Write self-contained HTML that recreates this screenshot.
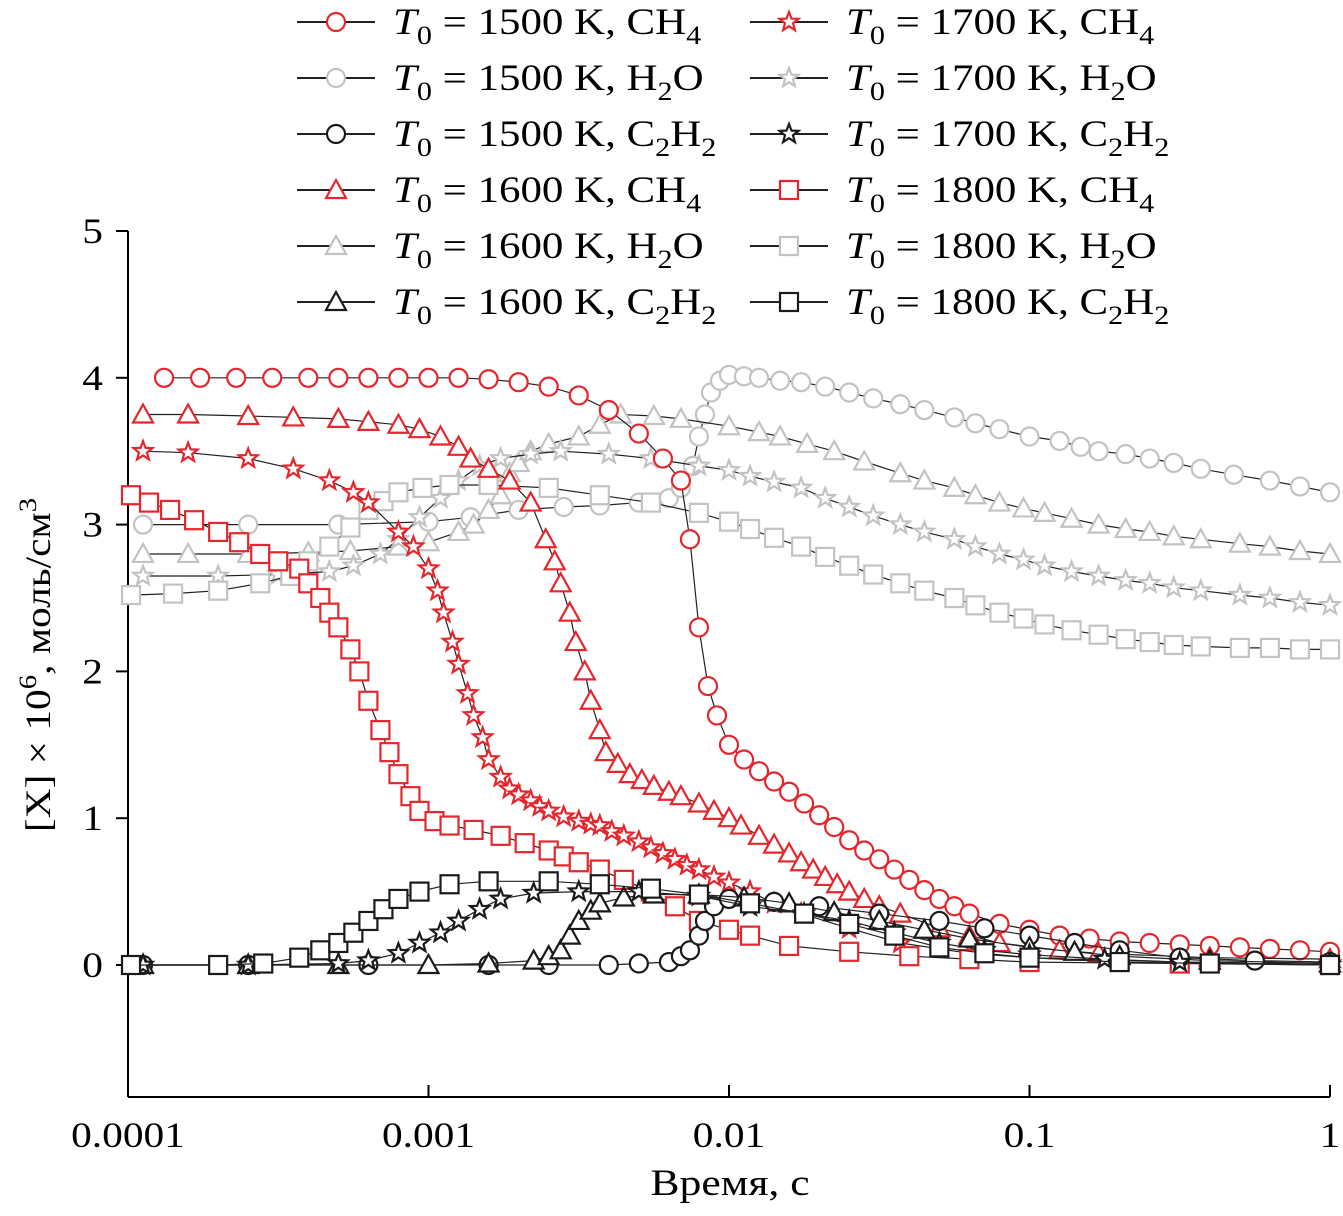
<!DOCTYPE html>
<html><head><meta charset="utf-8"><style>
html,body{margin:0;padding:0;background:#fff;}
svg text{font-family:"Liberation Serif",serif;}
</style></head><body>
<svg id="chart" width="1343" height="1211" viewBox="0 0 1343 1211" xmlns="http://www.w3.org/2000/svg">
<g id="axes"></g>
<g id="series"></g>
<g id="legend"></g>
</svg>
<script>
// x values are log10(time, s)
const xTicks = [-4,-3,-2,-1,0];
const xTickLabels = ["0.0001","0.001","0.01","0.1","1"];
const yTicks = [0,1,2,3,4,5];
const yTickLabels = ["0","1","2","3","4","5"];

const t1500ch4 = [-3.88,-3.76,-3.64,-3.52,-3.4,-3.3,-3.2,-3.1,-3.0,-2.9,-2.8,-2.7,-2.6,-2.5,-2.4,-2.3,-2.22,-2.16,-2.13,-2.1,-2.07,-2.04,-2.0,-1.95,-1.9,-1.85,-1.8,-1.75,-1.7,-1.65,-1.6,-1.55,-1.5,-1.45,-1.4,-1.35,-1.3,-1.25,-1.2,-1.1,-1.0,-0.9,-0.8,-0.7,-0.6,-0.5,-0.4,-0.3,-0.2,-0.1,0];
const v1500ch4 = [4.0,4.0,4.0,4.0,4.0,4.0,4.0,4.0,4.0,4.0,3.99,3.97,3.94,3.88,3.78,3.62,3.45,3.3,2.9,2.3,1.9,1.7,1.5,1.4,1.32,1.25,1.18,1.1,1.02,0.94,0.85,0.78,0.72,0.65,0.58,0.51,0.45,0.4,0.35,0.28,0.24,0.2,0.18,0.16,0.15,0.14,0.13,0.12,0.11,0.1,0.09];
const t1500h2o = [-3.95,-3.6,-3.3,-3.0,-2.86,-2.7,-2.55,-2.43,-2.3,-2.2,-2.16,-2.12,-2.1,-2.08,-2.06,-2.03,-2.0,-1.95,-1.9,-1.83,-1.76,-1.68,-1.6,-1.52,-1.43,-1.35,-1.25,-1.18,-1.1,-1.0,-0.9,-0.83,-0.77,-0.68,-0.6,-0.52,-0.43,-0.32,-0.2,-0.1,0];
const v1500h2o = [3.0,3.0,3.0,3.02,3.05,3.1,3.12,3.13,3.15,3.18,3.25,3.4,3.6,3.75,3.9,3.98,4.02,4.01,4.0,3.98,3.97,3.94,3.9,3.86,3.82,3.78,3.73,3.69,3.65,3.6,3.57,3.53,3.5,3.48,3.45,3.42,3.38,3.34,3.3,3.26,3.22];
const t1500c2h2 = [-3.95,-3.6,-3.2,-2.8,-2.6,-2.4,-2.3,-2.2,-2.16,-2.13,-2.1,-2.08,-2.05,-2.0,-1.85,-1.7,-1.5,-1.3,-1.15,-1.0,-0.85,-0.7,-0.5,-0.25,0];
const v1500c2h2 = [0,0,0,0,0,0,0.01,0.02,0.06,0.1,0.2,0.3,0.4,0.45,0.43,0.4,0.35,0.3,0.25,0.2,0.15,0.1,0.05,0.03,0.02];
const t1600ch4 = [-3.95,-3.8,-3.6,-3.45,-3.3,-3.2,-3.1,-3.03,-2.96,-2.9,-2.86,-2.8,-2.73,-2.66,-2.61,-2.58,-2.56,-2.53,-2.51,-2.48,-2.46,-2.43,-2.41,-2.37,-2.33,-2.29,-2.25,-2.2,-2.16,-2.1,-2.05,-2.0,-1.96,-1.9,-1.85,-1.8,-1.76,-1.72,-1.68,-1.64,-1.6,-1.55,-1.5,-1.43,-1.3,-1.2,-1.1,-0.9,-0.77,-0.4,0];
const v1600ch4 = [3.75,3.75,3.74,3.73,3.72,3.7,3.68,3.65,3.6,3.53,3.45,3.38,3.3,3.15,2.9,2.75,2.6,2.4,2.2,2.0,1.8,1.6,1.45,1.37,1.3,1.26,1.22,1.18,1.15,1.1,1.05,1.0,0.95,0.88,0.82,0.76,0.7,0.65,0.6,0.55,0.5,0.45,0.4,0.35,0.25,0.2,0.15,0.1,0.08,0.05,0.04];
const t1600h2o = [-3.95,-3.8,-3.6,-3.4,-3.26,-3.1,-3.0,-2.9,-2.85,-2.8,-2.76,-2.73,-2.7,-2.66,-2.6,-2.5,-2.43,-2.36,-2.25,-2.16,-2.0,-1.9,-1.83,-1.74,-1.65,-1.55,-1.43,-1.35,-1.25,-1.18,-1.1,-1.02,-0.95,-0.86,-0.77,-0.68,-0.6,-0.52,-0.43,-0.3,-0.2,-0.1,0];
const v1600h2o = [2.8,2.8,2.8,2.81,2.82,2.85,2.88,2.95,3.0,3.1,3.2,3.35,3.42,3.5,3.55,3.6,3.68,3.75,3.74,3.72,3.67,3.63,3.6,3.55,3.5,3.43,3.35,3.3,3.25,3.2,3.15,3.11,3.08,3.04,3.0,2.97,2.95,2.92,2.9,2.87,2.85,2.82,2.8];
const t1600c2h2 = [-3.95,-3.6,-3.3,-3.0,-2.8,-2.65,-2.6,-2.56,-2.53,-2.5,-2.46,-2.43,-2.35,-2.25,-2.1,-1.95,-1.8,-1.65,-1.5,-1.35,-1.2,-1.0,-0.85,-0.7,-0.4,0];
const v1600c2h2 = [0,0,0,0,0.01,0.03,0.06,0.1,0.2,0.3,0.37,0.42,0.46,0.48,0.48,0.46,0.42,0.36,0.3,0.24,0.18,0.12,0.09,0.06,0.03,0.01];
const t1700ch4 = [-3.95,-3.8,-3.6,-3.45,-3.33,-3.25,-3.2,-3.1,-3.05,-3.0,-2.97,-2.95,-2.92,-2.9,-2.87,-2.85,-2.82,-2.8,-2.76,-2.73,-2.7,-2.66,-2.63,-2.6,-2.55,-2.5,-2.46,-2.43,-2.39,-2.35,-2.3,-2.26,-2.22,-2.18,-2.14,-2.1,-2.05,-2.0,-1.93,-1.85,-1.76,-1.6,-1.43,-1.2,-1.0,-0.5,0];
const v1700ch4 = [3.5,3.49,3.45,3.38,3.3,3.22,3.15,2.95,2.85,2.7,2.55,2.4,2.2,2.05,1.85,1.7,1.55,1.4,1.28,1.2,1.16,1.12,1.08,1.05,1.01,0.98,0.96,0.95,0.91,0.88,0.84,0.8,0.76,0.72,0.68,0.65,0.6,0.56,0.5,0.42,0.35,0.25,0.15,0.08,0.05,0.02,0.01];
const t1700h2o = [-3.95,-3.7,-3.5,-3.33,-3.25,-3.16,-3.1,-3.03,-2.96,-2.9,-2.83,-2.76,-2.66,-2.56,-2.4,-2.26,-2.1,-2.0,-1.93,-1.85,-1.76,-1.68,-1.6,-1.52,-1.43,-1.35,-1.25,-1.18,-1.1,-1.02,-0.95,-0.86,-0.77,-0.68,-0.6,-0.52,-0.43,-0.3,-0.2,-0.1,0];
const v1700h2o = [2.65,2.65,2.66,2.68,2.72,2.8,2.9,3.05,3.18,3.3,3.4,3.45,3.48,3.5,3.48,3.45,3.4,3.37,3.33,3.29,3.25,3.18,3.12,3.06,3.0,2.95,2.9,2.85,2.8,2.76,2.72,2.68,2.65,2.62,2.6,2.57,2.55,2.52,2.5,2.47,2.45];
const t1700c2h2 = [-3.95,-3.6,-3.3,-3.2,-3.1,-3.03,-2.96,-2.9,-2.83,-2.76,-2.65,-2.5,-2.3,-2.1,-1.93,-1.75,-1.6,-1.45,-1.3,-1.15,-1.0,-0.75,-0.5,0];
const v1700c2h2 = [0,0,0.01,0.03,0.08,0.15,0.22,0.3,0.38,0.45,0.49,0.5,0.5,0.47,0.4,0.35,0.3,0.22,0.15,0.1,0.07,0.04,0.02,0];
const t1800ch4 = [-3.99,-3.93,-3.86,-3.78,-3.7,-3.63,-3.56,-3.5,-3.43,-3.4,-3.36,-3.33,-3.3,-3.26,-3.23,-3.2,-3.16,-3.13,-3.1,-3.06,-3.03,-2.98,-2.93,-2.85,-2.76,-2.68,-2.6,-2.55,-2.5,-2.43,-2.35,-2.26,-2.18,-2.1,-2.0,-1.93,-1.8,-1.6,-1.4,-1.2,-1.0,-0.5,0];
const v1800ch4 = [3.2,3.15,3.1,3.03,2.95,2.88,2.8,2.75,2.7,2.6,2.5,2.4,2.3,2.15,2.0,1.8,1.6,1.45,1.3,1.15,1.05,0.98,0.95,0.92,0.88,0.83,0.78,0.74,0.7,0.65,0.58,0.5,0.4,0.3,0.24,0.2,0.13,0.09,0.06,0.04,0.02,0.01,0];
const t1800h2o = [-3.99,-3.85,-3.7,-3.56,-3.46,-3.4,-3.33,-3.26,-3.2,-3.15,-3.1,-3.02,-2.93,-2.8,-2.6,-2.43,-2.26,-2.1,-2.0,-1.93,-1.85,-1.76,-1.68,-1.6,-1.52,-1.43,-1.35,-1.25,-1.18,-1.1,-1.02,-0.95,-0.86,-0.77,-0.68,-0.6,-0.52,-0.43,-0.3,-0.2,-0.1,0];
const v1800h2o = [2.52,2.53,2.55,2.6,2.65,2.75,2.85,2.98,3.1,3.16,3.22,3.25,3.27,3.27,3.25,3.2,3.15,3.08,3.02,2.97,2.91,2.85,2.78,2.72,2.66,2.6,2.55,2.5,2.45,2.4,2.36,2.32,2.28,2.25,2.22,2.2,2.18,2.17,2.16,2.16,2.15,2.15];
const t1800c2h2 = [-3.99,-3.7,-3.55,-3.43,-3.36,-3.3,-3.25,-3.2,-3.15,-3.1,-3.03,-2.93,-2.8,-2.6,-2.43,-2.26,-2.1,-1.93,-1.75,-1.6,-1.45,-1.3,-1.15,-1.0,-0.7,-0.4,0];
const v1800c2h2 = [0,0,0.01,0.05,0.1,0.15,0.22,0.3,0.38,0.45,0.5,0.55,0.57,0.57,0.55,0.52,0.48,0.42,0.35,0.28,0.2,0.12,0.08,0.05,0.02,0.01,0];

const RED="#e5262d", GRAY="#c3c3c3", BLACK="#1a1a1a";
const seriesList = [
 {name:"1500-h2o",t:t1500h2o,v:v1500h2o,c:GRAY,m:"circle",T:"1500",sp:"H2O"},
 {name:"1600-h2o",t:t1600h2o,v:v1600h2o,c:GRAY,m:"tri",T:"1600",sp:"H2O"},
 {name:"1700-h2o",t:t1700h2o,v:v1700h2o,c:GRAY,m:"star",T:"1700",sp:"H2O"},
 {name:"1800-h2o",t:t1800h2o,v:v1800h2o,c:GRAY,m:"square",T:"1800",sp:"H2O"},
 {name:"1500-ch4",t:t1500ch4,v:v1500ch4,c:RED,m:"circle",T:"1500",sp:"CH4"},
 {name:"1600-ch4",t:t1600ch4,v:v1600ch4,c:RED,m:"tri",T:"1600",sp:"CH4"},
 {name:"1700-ch4",t:t1700ch4,v:v1700ch4,c:RED,m:"star",T:"1700",sp:"CH4"},
 {name:"1800-ch4",t:t1800ch4,v:v1800ch4,c:RED,m:"square",T:"1800",sp:"CH4"},
 {name:"1500-c2h2",t:t1500c2h2,v:v1500c2h2,c:BLACK,m:"circle",T:"1500",sp:"C2H2"},
 {name:"1600-c2h2",t:t1600c2h2,v:v1600c2h2,c:BLACK,m:"tri",T:"1600",sp:"C2H2"},
 {name:"1700-c2h2",t:t1700c2h2,v:v1700c2h2,c:BLACK,m:"star",T:"1700",sp:"C2H2"},
 {name:"1800-c2h2",t:t1800c2h2,v:v1800c2h2,c:BLACK,m:"square",T:"1800",sp:"C2H2"}
];

const NS="http://www.w3.org/2000/svg";
const X0=128, X1=1330, Y0=965, YU=146.8;
function xs(lt){return X0+(lt+4)*(X1-X0)/4;}
function ys(v){return Y0-v*YU;}
function mk(tag,attrs,parent){const e=document.createElementNS(NS,tag);for(const k in attrs)e.setAttribute(k,attrs[k]);parent.appendChild(e);return e;}
function wideText(x,y,anchor,size,sx,parent){
 return mk('text',{x:0,y:0,"text-anchor":anchor,"font-size":size,transform:`translate(${x},${y}) scale(${sx},1)`},parent);
}

const axes=document.getElementById('axes');
let a=mk('line',{x1:X0,y1:231,x2:X0,y2:1097,stroke:"#000","stroke-width":2},axes);


a=mk('line',{x1:X0,y1:1097,x2:X1,y2:1097,stroke:"#000","stroke-width":2},axes);


yTicks.forEach((v,i)=>{
 const tk=mk('line',{x1:X0-12,y1:ys(v),x2:X0,y2:ys(v),stroke:"#000","stroke-width":2},axes);
 
 
 const tx=wideText(103,ys(v)+12,"end",36,1.15,axes);
 tx.textContent=yTickLabels[i];
 
 
});
xTicks.forEach((v,i)=>{
 const tk=mk('line',{x1:xs(v),y1:1085,x2:xs(v),y2:1097,stroke:"#000","stroke-width":2},axes);
 
 
 const tx=wideText(xs(v),1147,"middle",36,1.15,axes);
 tx.textContent=xTickLabels[i];
 
 
});
let xt=wideText(730,1195,"middle",37,1.18,axes);
xt.textContent="Время, с";


let yt=mk('text',{x:0,y:0,"text-anchor":"middle","font-size":36,transform:"translate(50,665) rotate(-90) scale(1.15,1)"},axes);
yt.innerHTML='[X] × 10<tspan dy="-14" font-size="25">6</tspan><tspan dy="14">, моль/см</tspan><tspan dy="-14" font-size="25">3</tspan>';



function marker(type,x,y,c,parent){
 let e;
 const st={fill:"#fff",stroke:c,"stroke-width":2.2};
 if(type==="circle") e=mk('circle',Object.assign({cx:x,cy:y,r:9},st),parent);
 else if(type==="square") e=mk('rect',Object.assign({x:x-9,y:y-9,width:18,height:18},st),parent);
 else if(type==="tri") e=mk('polygon',Object.assign({points:`${x},${y-10} ${x+10},${y+8} ${x-10},${y+8}`},st),parent);
 else {
  let p=[];for(let k=0;k<10;k++){const r=k%2?4.2:10;const an=-Math.PI/2+k*Math.PI/5;p.push((x+r*Math.cos(an)).toFixed(1)+","+(y+r*Math.sin(an)).toFixed(1));}
  e=mk('polygon',Object.assign({points:p.join(" ")},st),parent);
 }
 return e;
}

const sl=document.getElementById('series');
seriesList.forEach(s=>{
 const g=mk('g',{},sl);
 
 
 const pts=s.t.map((t,i)=>xs(t).toFixed(1)+","+ys(s.v[i]).toFixed(1)).join(" ");
 const ln=mk('polyline',{points:pts,fill:"none",stroke:"#222","stroke-width":1.2},g);
 
 
 s.t.forEach((t,i)=>{
  const m=marker(s.m,xs(t),ys(s.v[i]),s.c,g);
  
  
 });
});

// legend
const lg=document.getElementById('legend');
const order=[["1500","CH4"],["1500","H2O"],["1500","C2H2"],["1600","CH4"],["1600","H2O"],["1600","C2H2"],
             ["1700","CH4"],["1700","H2O"],["1700","C2H2"],["1800","CH4"],["1800","H2O"],["1800","C2H2"]];
const spHtml={CH4:'CH<tspan dy="10" font-size="26">4</tspan>',H2O:'H<tspan dy="10" font-size="26">2</tspan><tspan dy="-10">O</tspan>',C2H2:'C<tspan dy="10" font-size="26">2</tspan><tspan dy="-10">H</tspan><tspan dy="10" font-size="26">2</tspan>'};
order.forEach((o,i)=>{
 const s=seriesList.find(q=>q.T===o[0]&&q.sp===o[1]);
 const col=i<6?0:1, row=i%6;
 const lx=col?750:297, y=22+row*56;
 const g=mk('g',{},lg);
 
 
 mk('line',{x1:lx,y1:y,x2:lx+78,y2:y,stroke:"#222","stroke-width":2},g);
 marker(s.m,lx+39,y,s.c,g);
 const tx=wideText(lx+96,y+12,"start",37,1.16,g);
 tx.innerHTML='<tspan font-style="italic">T</tspan><tspan dy="10" font-size="26">0</tspan><tspan dy="-10"> = '+o[0]+' K, </tspan>'+spHtml[o[1]];
});
</script>
</body></html>
